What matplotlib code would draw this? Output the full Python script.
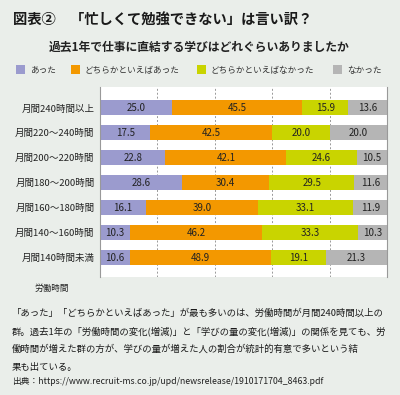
import matplotlib
matplotlib.use("Agg")
import matplotlib.pyplot as plt
import numpy as np

plt.rcParams['font.family'] = ['Noto Sans CJK JP', 'DejaVu Sans']

# --- data ---
rows = ['月間240時間以上', '月間220～240時間', '月間200～220時間', '月間180～200時間',
        '月間160～180時間', '月間140～160時間', '月間140時間未満']
series = ['あった', 'どちらかといえばあった', 'どちらかといえばなかった', 'なかった']
atta = [25.0, 17.5, 22.8, 28.6, 16.1, 10.3, 10.6]
dochira_atta = [45.5, 42.5, 42.1, 30.4, 39.0, 46.2, 48.9]
dochira_nakatta = [15.9, 20.0, 24.6, 29.5, 33.1, 33.3, 19.1]
nakatta = [13.6, 20.0, 10.5, 11.6, 11.9, 10.3, 21.3]
colors = ['#9B9BCE', '#F39800', '#C9D400', '#B5B5B5']

title = '図表②\u3000「忙しくて勉強できない」は言い訳？'
subtitle = '過去1年で仕事に直結する学びはどれぐらいありましたか'
note_lines = ['「あった」「どちらかといえばあった」が最も多いのは、労働時間が月間240時間以上の',
              '群。過去1年の「労働時間の変化(増減)」と「学びの量の変化(増減)」の関係を見ても、労',
              '働時間が増えた群の方が、学びの量が増えた人の割合が統計的有意で多いという結',
              '果も出ている。']
source = '出典：https://www.recruit-ms.co.jp/upd/newsrelease/1910171704_8463.pdf'

bg = '#EAEEEA'
W, H = 400, 395
fig = plt.figure(figsize=(4.0, 3.95), dpi=100, facecolor=bg)

def fx(px):
    return px / W

def fy(py):
    return 1 - py / H

fig.text(fx(13), fy(21), title, fontsize=10.3, fontweight='bold', va='center', color='#1a1a1a')
fig.text(fx(199), fy(47), subtitle, fontsize=8.5, fontweight='bold', va='center', ha='center', color='#222222')

# legend
leg_x = [16, 71, 197, 333]
for lx, name, c in zip(leg_x, series, colors):
    fig.patches.append(plt.Rectangle((fx(lx), fy(74)), 9 / W, 9 / H, transform=fig.transFigure,
                                     facecolor=c, edgecolor='none'))
    fig.text(fx(lx + 14), fy(70), name, fontsize=6.2, va='center', color='#333333')

# chart
ax = fig.add_axes([fx(100), fy(277), 287 / W, 190 / H])
ax.set_facecolor('white')
y = np.arange(len(rows))
data = [atta, dochira_atta, dochira_nakatta, nakatta]
left = np.zeros(len(rows))
for vals, c in zip(data, colors):
    vals = np.array(vals)
    ax.barh(y, vals, left=left, height=0.6, color=c, edgecolor='none', zorder=2)
    for yi, l, v in zip(y, left, vals):
        ax.text(l + v / 2, yi, f'{v:.1f}', ha='center', va='center', fontsize=7, color='#222222', zorder=3)
    left += vals

ax.set_xlim(0, 100)
ax.set_ylim(len(rows) - 1 + 0.78, -0.84)
for gx in [20, 40, 60, 80]:
    ax.axvline(gx, color='#999999', linestyle=(0, (2, 2)), linewidth=0.7, zorder=1)
ax.set_xticks([])
ax.set_yticks(y)
ax.set_yticklabels(rows, fontsize=6.8, color='#222222')
ax.tick_params(axis='y', length=0, pad=4)
for s in ['top', 'bottom']:
    ax.spines[s].set_visible(False)
for s in ['left', 'right']:
    ax.spines[s].set_color('#999999')
    ax.spines[s].set_linewidth(0.8)

fig.text(fx(35), fy(288), '労働時間', fontsize=6.2, va='center', color='#222222')

for i, line in enumerate(note_lines):
    fig.text(fx(12), fy(313 + i * 18.2), line, fontsize=6.75, va='center', color='#1a1a1a')
fig.text(fx(12), fy(381), source, fontsize=6.3, va='center', color='#222222')

fig.savefig('out.png', dpi=100, facecolor=bg)
